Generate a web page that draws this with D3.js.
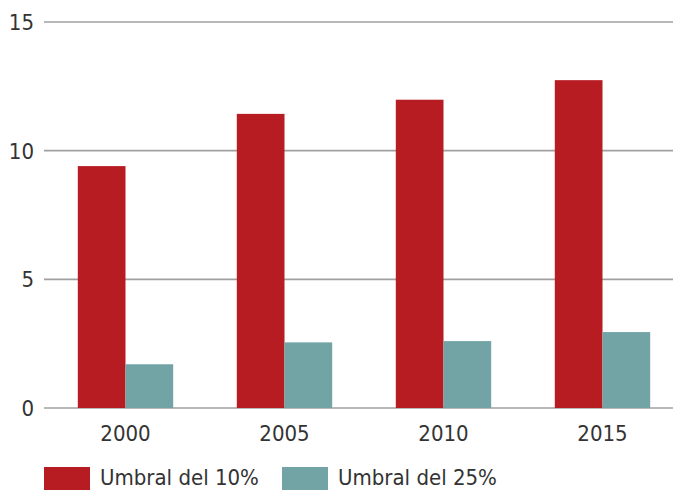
<!DOCTYPE html>
<html>
<head>
<meta charset="utf-8">
<script src="https://cdn.jsdelivr.net/npm/d3@7"></script>
<style>
  body { margin: 0; background: #fff; }
  text { font-family: "DejaVu Sans Condensed", "Liberation Sans Narrow", sans-serif; fill: #333; }
  .grid line { stroke: #a0a0a0; stroke-width: 1.6; }
</style>
</head>
<body>
<div id="chart"></div>
<script>
// data
var years = ["2000", "2005", "2010", "2015"];
var series = ["Umbral del 10%", "Umbral del 25%"];
var umbral10 = [9.4, 11.43, 11.98, 12.74];
var umbral25 = [1.7, 2.55, 2.6, 2.95];
var yTicks = [0, 5, 10, 15];
var colors = ["#b71c23", "#72a4a6"];

var width = 673, height = 490;

var svg = d3.select("#chart")
  .append("svg")
  .attr("width", width)
  .attr("height", height);

var x0 = d3.scaleBand().domain(years).range([46, 682]).paddingInner(0.4).paddingOuter(0.2);
var x1 = d3.scaleBand().domain(series).range([0, x0.bandwidth()]);
var y = d3.scaleLinear().domain([0, 15]).range([408, 22]);
var color = d3.scaleOrdinal().domain(series).range(colors);

// gridlines
svg.append("g")
  .attr("class", "grid")
  .selectAll("line")
  .data(yTicks)
  .enter().append("line")
  .attr("x1", 44)
  .attr("x2", width)
  .attr("y1", function(d) { return y(d); })
  .attr("y2", function(d) { return y(d); });

// y labels
svg.append("g")
  .selectAll("text")
  .data(yTicks)
  .enter().append("text")
  .attr("x", 34)
  .attr("y", function(d) { return y(d); })
  .attr("dy", "0.36em")
  .attr("text-anchor", "end")
  .style("font-size", "22px")
  .text(function(d) { return d; });

// bars
var rows = years.map(function(yr, i) {
  return { year: yr, values: [umbral10[i], umbral25[i]] };
});

var group = svg.selectAll(".group")
  .data(rows)
  .enter().append("g")
  .attr("class", "group")
  .attr("transform", function(d) { return "translate(" + x0(d.year) + ",0)"; });

group.selectAll("rect")
  .data(function(d) { return d.values.map(function(v, j) { return { key: series[j], value: v }; }); })
  .enter().append("rect")
  .attr("x", function(d) { return x1(d.key); })
  .attr("width", x1.bandwidth())
  .attr("y", function(d) { return y(d.value); })
  .attr("height", function(d) { return y(0) - y(d.value); })
  .attr("fill", function(d) { return color(d.key); });

// x labels
svg.append("g")
  .selectAll("text")
  .data(years)
  .enter().append("text")
  .attr("x", function(d) { return x0(d) + x0.bandwidth() / 2; })
  .attr("y", 441)
  .attr("text-anchor", "middle")
  .style("font-size", "22px")
  .text(function(d) { return d; });

// legend
var legendX = [44, 282];
var legend = svg.selectAll(".legend")
  .data(series)
  .enter().append("g")
  .attr("class", "legend")
  .attr("transform", function(d, i) { return "translate(" + legendX[i] + ",467)"; });

legend.append("rect")
  .attr("width", 46)
  .attr("height", 23)
  .attr("fill", function(d) { return color(d); });

legend.append("text")
  .attr("x", 56)
  .attr("y", 18)
  .style("font-size", "22px")
  .text(function(d) { return d; });
</script>
</body>
</html>
